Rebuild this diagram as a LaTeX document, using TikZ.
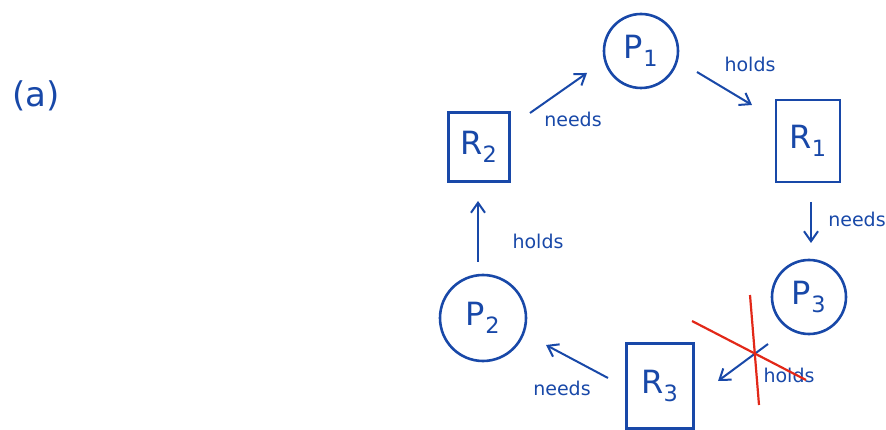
\documentclass[tikz,border=0pt]{standalone}
\usepackage{fontspec}
\setmainfont{DejaVu Sans}
\usetikzlibrary{arrows.meta}
\definecolor{ink}{RGB}{24,72,168}
\definecolor{cross}{RGB}{226,40,24}
\begin{document}
\begin{tikzpicture}[x=1pt,y=-1pt,
  ink/.style={draw=ink,line width=2.6pt},
  proc/.style={ink,circle,minimum size=74pt,inner sep=0pt,text=ink,font=\fontsize{32}{34}\selectfont},
  res/.style={ink,rectangle,minimum width=62pt,minimum height=76pt,inner sep=0pt,text=ink,font=\fontsize{32}{34}\selectfont},
  edge/.style={draw=ink,line width=2pt,-{Straight Barb[length=10pt,width=14pt,line width=2pt]}},
  lbl/.style={text=ink,font=\fontsize{19}{21}\selectfont,inner sep=1pt},
  redline/.style={draw=cross,line width=2.2pt}]
\useasboundingbox (0,0) rectangle (886,430);
\node[text=ink,font=\fontsize{34}{36}\selectfont] (lab) at (36,96) {(a)};
\node[proc] (P1) at (641,51) {P\textsubscript{1}};
\node[res,minimum width=64pt,minimum height=82pt] (R1) at (808,141) {R\textsubscript{1}};
\node[res,minimum width=61pt,minimum height=69pt] (R2) at (479,147) {R\textsubscript{2}};
\node[proc] (P3) at (809,297) {P\textsubscript{3}};
\node[res,minimum width=67pt,minimum height=85pt] (R3) at (660,386) {R\textsubscript{3}};
\node[proc,minimum size=86pt] (P2) at (483,318) {P\textsubscript{2}};
% connectors
\coordinate (a1s) at (530,113); \coordinate (a1e) at (587,73);
\draw[edge] (a1s) -- (a1e);
\node[lbl] (n1) at (573,119) {needs};
\coordinate (a2s) at (697,72); \coordinate (a2e) at (752,105);
\draw[edge] (a2s) -- (a2e);
\node[lbl] (h1) at (750,64) {holds};
\coordinate (a3s) at (811,202); \coordinate (a3e) at (811,243);
\draw[edge] (a3s) -- (a3e);
\node[lbl] (n2) at (857,219) {needs};
\coordinate (a4s) at (768,344); \coordinate (a4e) at (718,381);
\draw[edge] (a4s) -- (a4e);
\node[lbl] (h2) at (789,375) {holds};
\coordinate (a5s) at (608,378); \coordinate (a5e) at (546,345);
\draw[edge] (a5s) -- (a5e);
\node[lbl] (n3) at (562,388) {needs};
\coordinate (a6s) at (478,262); \coordinate (a6e) at (478,201);
\draw[edge] (a6s) -- (a6e);
\node[lbl] (h3) at (538,241) {holds};
% red cross
\coordinate (c1) at (692,321); \coordinate (c2) at (806,380);
\coordinate (c3) at (750,295); \coordinate (c4) at (759,405);
\draw[redline] (c1) -- (c2);
\draw[redline] (c3) -- (c4);
\end{tikzpicture}
\end{document}
